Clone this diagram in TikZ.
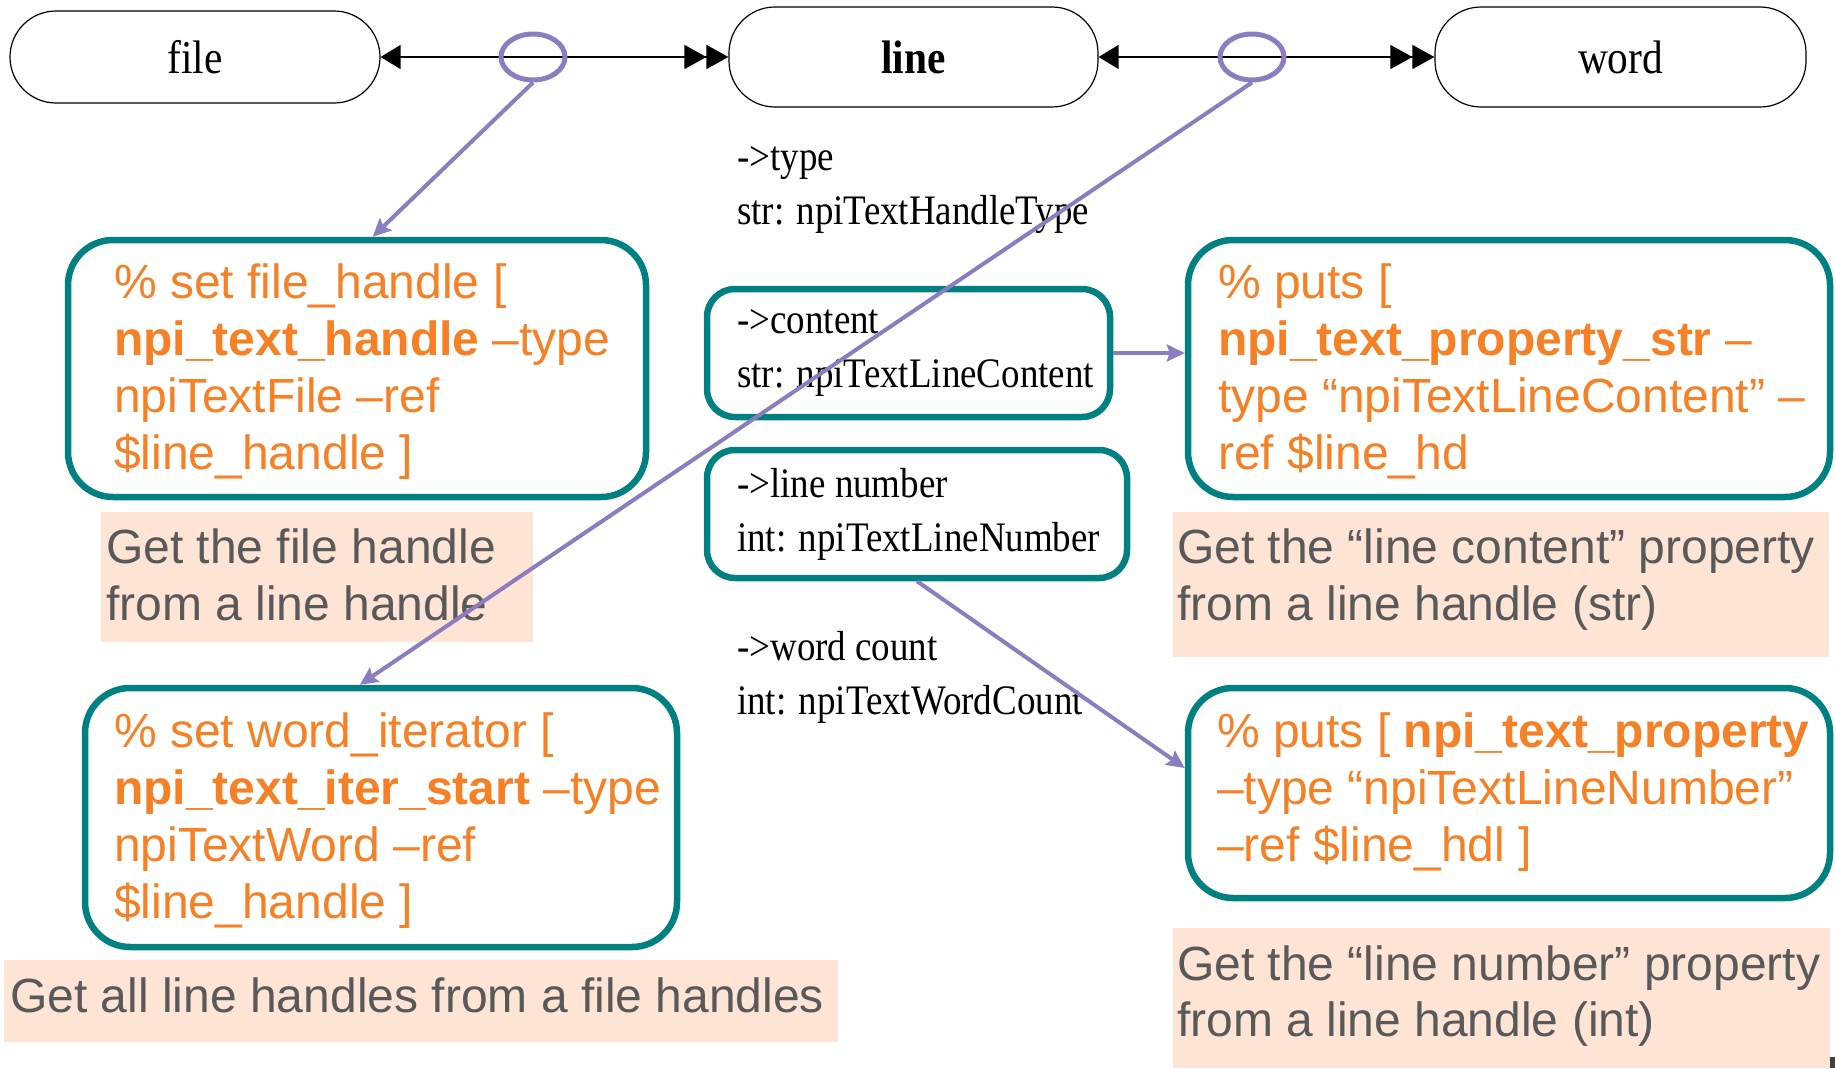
\documentclass[tikz,border=0pt]{standalone}
\usepackage{fontspec}
\setmainfont{Liberation Serif}
\newfontfamily\arialf{Liberation Sans}
\newfontfamily\condserif[FakeStretch=0.88]{Liberation Serif}
\usetikzlibrary{arrows.meta,shapes.geometric}
\definecolor{tealc}{RGB}{0,128,128}
\definecolor{orangec}{RGB}{245,128,37}
\definecolor{peachc}{RGB}{253,228,212}
\definecolor{greyc}{RGB}{89,89,89}
\definecolor{purplec}{RGB}{139,125,192}
\begin{document}
\begin{tikzpicture}[x=1pt,y=-1pt,
  pill/.style={draw=black, line width=1.2pt, rounded corners=46pt, minimum width=370pt, inner sep=0pt, font=\condserif\fontsize{47}{55}\selectfont},
  bigbox/.style={draw=tealc, line width=6.5pt, rounded corners=45pt, inner sep=0pt},
  smallbox/.style={draw=tealc, line width=6.5pt, rounded corners=28pt, inner sep=0pt},
  codetext/.style={anchor=north west, inner sep=0pt, align=left, text=orangec, font=\arialf\fontsize{48}{57}\selectfont},
  notetext/.style={anchor=north west, inner sep=0pt, align=left, text=greyc, font=\arialf\fontsize{48}{57}\selectfont},
  proptext/.style={anchor=north west, inner sep=0pt, align=left, text=black, font=\condserif\fontsize{42}{54}\selectfont},
  note/.style={fill=peachc},
  link/.style={draw=black, line width=1.3pt, arrows={Triangle[length=20pt,width=24pt]-Triangle[length=22pt,width=24pt]Triangle[length=22pt,width=24pt]}},
  marker/.style={ellipse, draw=purplec, line width=5pt, minimum width=64pt, minimum height=46pt, inner sep=0pt},
  pointer/.style={draw=purplec, line width=4pt, -{Stealth[length=18pt,width=17pt,inset=3pt]}},
]
\useasboundingbox (0,0) rectangle (1835,1068);

% note backgrounds
\fill[note] (101,512) rectangle (533,642);
\fill[note] (1173,512) rectangle (1829,657);
\fill[note] (4,960) rectangle (838,1042);
\fill[note] (1173,928) rectangle (1830,1068);
\fill[black!75] (1830,1057) rectangle (1835,1068);

% top pills
\node[pill, minimum height=92pt] (file) at (195,57) {file};
\node[pill, minimum height=100pt, minimum width=369pt, font=\condserif\fontsize{47}{55}\selectfont\bfseries] (line) at (913.5,57) {line};
\node[pill, minimum height=100pt, minimum width=371pt] (word) at (1620.5,57) {word};

\draw[link] (file.east) -- (line.west);
\draw[link] (line.east) -- (word.west);

\node[marker] (e1) at (533,57) {};
\node[marker] (e2) at (1252,57) {};

% teal boxes
\node[bigbox, minimum width=578pt, minimum height=257pt] (b1) at (357,368.5) {};
\node[bigbox, minimum width=642pt, minimum height=257pt] (b2) at (1509,368.5) {};
\node[bigbox, minimum width=592pt, minimum height=259pt] (b3) at (381,817.5) {};
\node[bigbox, minimum width=642pt, minimum height=210pt] (b4) at (1509,793) {};
\node[smallbox, minimum width=403pt, minimum height=128pt] (c1) at (908.5,353) {};
\node[smallbox, minimum width=420pt, minimum height=128pt] (c2) at (917,514) {};

% code texts
\node[codetext] (t1) at (114,258) {\rule{0pt}{40pt}\% set file\_handle [\\\textbf{npi\_text\_handle} –type\\npiTextFile –ref\\\$line\_handle ]};
\node[codetext] (t2) at (1218,258) {\rule{0pt}{40pt}\% puts [\\\textbf{npi\_text\_property\_str} –\\type “npiTextLineContent” –\\ref \$line\_hd};
\node[codetext] (t3) at (114,707) {\rule{0pt}{40pt}\% set word\_iterator [\\\textbf{npi\_text\_iter\_start} –type\\npiTextWord –ref\\\$line\_handle ]};
\node[codetext] (t4) at (1217,707) {\rule{0pt}{40pt}\% puts [ \textbf{npi\_text\_property}\\–type “npiTextLineNumber”\\–ref \$line\_hdl ]};

% note texts
\node[notetext] (g1) at (106,523) {\rule{0pt}{40pt}Get the file handle\\from a line handle};
\node[notetext] (g2) at (1177,523) {\rule{0pt}{40pt}Get the “line content” property\\from a line handle (str)};
\node[notetext] (g3) at (10,972) {\rule{0pt}{40pt}Get all line handles from a file handles};
\node[notetext, font=\arialf\fontsize{48}{56}\selectfont] (g4) at (1177,940) {\rule{0pt}{40pt}Get the “line number” property\\from a line handle (int)};

% property texts
\node[proptext] (m1) at (737,138) {\rule{0pt}{32pt}-{}>type\\str: npiTextHandleType};
\node[proptext] (m2) at (737,301) {\rule{0pt}{32pt}-{}>content\\str: npiTextLineContent};
\node[proptext] (m3) at (737,465) {\rule{0pt}{32pt}-{}>line number\\int: npiTextLineNumber};
\node[proptext] (m4) at (737,628) {\rule{0pt}{32pt}-{}>word count\\int: npiTextWordCount};

% pointers
\draw[pointer] (e1.south) -- ([xshift=308pt]b1.north west);
\draw[pointer] (e2.south) -- ([xshift=278pt]b3.north west);
\draw[pointer] (c1.east) -- (c1.east -| b2.west);
\draw[pointer] (c2.south) -- ([yshift=25pt]b4.west);
\end{tikzpicture}
\end{document}
